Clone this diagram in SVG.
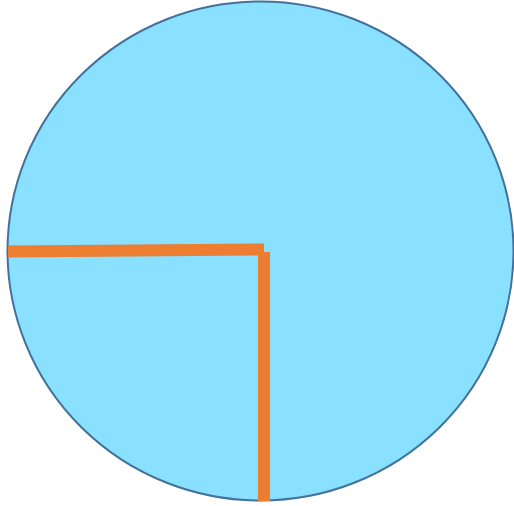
<svg xmlns="http://www.w3.org/2000/svg" width="514" height="506" viewBox="0 0 514 506">
<style>
.disc{fill:#8AE0FF;stroke:#41719C;stroke-width:2}
.hand{stroke:#ED7D31;stroke-width:12;fill:none}
</style>
<g id="circle"><ellipse class="disc" cx="260.5" cy="251" rx="253" ry="249.5"/></g>
<g id="connectors">
<line class="hand" x1="8" y1="251.5" x2="264" y2="249.5"/>
<line class="hand" x1="264" y1="252" x2="264" y2="501"/>
</g>
</svg>
